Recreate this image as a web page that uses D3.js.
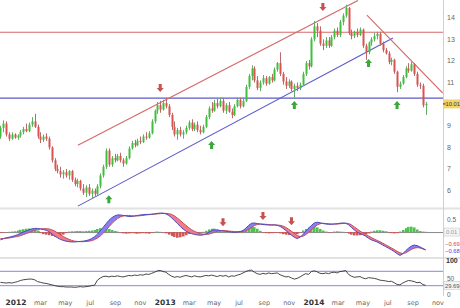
<!DOCTYPE html>
<html>
<head>
<meta charset="utf-8">
<script src="https://cdn.jsdelivr.net/npm/d3@7"></script>
<style>
  body { margin: 0; background: #fff; }
  svg { display: block; font-family: "DejaVu Sans", Arial, sans-serif; }
  .rlabel { font-family: "Liberation Sans", Arial, sans-serif; }
</style>
</head>
<body>
<div id="chart"></div>
<script>
// first weekly candle
const firstWeek = "2011-11-25";

// weekly OHLC
const opens = [8.5,8.9,9.1,8.6,8.4,8.6,8.45,8.55,8.7,8.85,8.75,9.05,9.2,8.95,8.5,8.35,8.5,8.4,8.0,7.4,
  7.0,6.9,6.75,6.85,6.7,6.9,6.5,6.3,6.45,6.1,5.9,6.15,5.85,6.0,5.85,6.2,6.7,7.1,7.85,7.2,
  7.5,7.4,7.6,7.4,7.25,7.5,7.95,8.2,8.1,8.3,8.25,8.5,8.45,8.65,9.2,9.7,9.95,9.75,10.05,9.9,
  9.5,8.95,8.6,8.8,8.6,8.7,8.9,9.15,8.85,9.05,8.8,8.7,8.95,9.4,9.8,9.7,10.05,9.9,10.15,9.7,
  9.95,9.65,9.5,9.9,10.2,9.9,10.15,10.8,11.3,11.65,11.1,10.75,11.0,11.2,10.95,11.25,11.1,11.6,11.9,11.4,
  11.05,10.85,11.05,10.7,10.85,10.75,10.9,11.4,11.9,11.75,13.0,13.6,13.4,12.8,12.7,12.95,12.7,13.1,13.4,13.2,
  13.8,14.1,14.45,13.3,13.15,13.35,13.2,13.45,12.7,12.4,12.85,13.0,13.15,13.25,12.8,12.5,12.35,11.95,12.05,11.5,
  10.8,10.95,11.25,11.65,11.55,11.85,11.4,10.9,10.85,9.95];
const highs = [9.0,9.25,9.2,8.7,8.7,8.65,8.6,8.8,8.95,9.1,9.15,9.4,9.55,9.05,8.7,8.6,8.65,8.5,8.05,7.5,
  7.2,7.1,6.95,7.0,6.95,6.95,6.6,6.55,6.5,6.3,6.25,6.3,6.1,6.1,6.3,6.8,7.2,7.95,7.95,7.6,
  7.7,7.7,7.75,7.5,7.6,8.05,8.3,8.35,8.4,8.5,8.6,8.7,8.75,9.3,9.75,10.1,10.15,10.2,10.3,10.0,
  9.6,9.2,8.9,8.95,8.8,9.0,9.25,9.3,9.15,9.2,9.0,9.05,9.5,9.9,10.1,10.2,10.25,10.3,10.3,10.05,
  10.1,9.8,10.0,10.3,10.3,10.25,10.9,11.4,11.8,11.75,11.3,11.1,11.35,11.3,11.3,11.4,11.7,11.95,12.4,11.5,
  11.25,11.15,11.1,10.95,11.0,11.0,11.5,12.0,12.05,13.1,13.85,13.75,13.6,13.0,13.1,13.1,13.2,13.5,13.55,13.9,
  14.2,14.6,14.5,13.45,13.4,13.5,13.55,13.5,12.8,12.9,13.1,13.3,13.35,13.35,12.9,12.6,12.45,12.15,12.1,11.55,
  11.05,11.35,11.75,11.9,11.95,11.9,11.5,11.0,10.95,10.1];
const lows = [8.4,8.7,8.5,8.3,8.35,8.4,8.35,8.45,8.6,8.7,8.7,8.95,8.9,8.4,8.2,8.25,8.3,7.9,7.3,6.9,
  6.8,6.6,6.55,6.6,6.5,6.4,6.2,6.15,6.0,5.8,5.7,5.75,5.65,5.75,5.8,6.1,6.6,7.0,7.1,7.1,
  7.3,7.35,7.3,7.1,7.2,7.45,7.9,8.0,8.05,8.15,8.2,8.35,8.4,8.6,9.1,9.55,9.6,9.7,9.8,9.4,
  8.8,8.5,8.35,8.5,8.4,8.6,8.8,8.75,8.75,8.7,8.6,8.65,8.9,9.3,9.6,9.65,9.8,9.85,9.6,9.55,
  9.6,9.35,9.45,9.85,9.8,9.85,10.1,10.7,11.1,11.0,10.65,10.6,10.9,10.85,10.9,11.0,11.05,11.5,11.3,10.9,
  10.7,10.75,10.6,10.3,10.6,10.65,10.85,11.3,11.6,11.7,12.9,13.1,12.7,12.5,12.6,12.6,12.65,13.0,13.1,13.1,
  13.65,14.0,13.2,13.0,13.05,13.1,13.15,12.6,12.05,12.3,12.7,12.9,13.0,12.7,12.4,12.3,11.85,11.8,11.4,10.55,
  10.7,10.9,11.2,11.45,11.5,11.3,10.8,10.7,9.85,9.5];
const closes = [8.9,9.1,8.6,8.4,8.6,8.45,8.55,8.7,8.85,8.75,9.05,9.2,8.95,8.5,8.35,8.5,8.4,8.0,7.4,7.0,
  6.9,6.75,6.85,6.7,6.9,6.5,6.3,6.45,6.1,5.9,6.15,5.85,6.0,5.85,6.2,6.7,7.1,7.85,7.2,7.5,
  7.4,7.6,7.4,7.25,7.5,7.95,8.2,8.1,8.3,8.25,8.5,8.45,8.65,9.2,9.7,9.95,9.75,10.05,9.9,9.5,
  8.95,8.6,8.8,8.6,8.7,8.9,9.15,8.85,9.05,8.8,8.7,8.95,9.4,9.8,9.7,10.05,9.9,10.15,9.7,9.95,
  9.65,9.5,9.9,10.2,9.9,10.15,10.8,11.3,11.65,11.1,10.75,11.0,11.2,10.95,11.25,11.1,11.6,11.9,11.4,11.05,
  10.85,11.05,10.7,10.85,10.75,10.9,11.4,11.9,11.75,13.0,13.6,13.4,12.8,12.7,12.95,12.7,13.1,13.4,13.2,13.8,
  14.1,14.45,13.3,13.15,13.35,13.2,13.45,12.7,12.4,12.85,13.0,13.15,13.25,12.8,12.5,12.35,11.95,12.05,11.5,10.8,
  10.95,11.25,11.65,11.55,11.85,11.4,10.9,10.85,9.95,10.01];

// MACD panel
const macdLine = [-0.3,-0.26,-0.22,-0.2,-0.17,-0.14,-0.1,-0.05,0.0,0.04,0.08,0.12,0.14,0.14,0.12,0.1,0.07,0.02,-0.06,-0.15,
  -0.22,-0.28,-0.32,-0.35,-0.37,-0.38,-0.38,-0.37,-0.36,-0.35,-0.33,-0.3,-0.25,-0.18,-0.08,0.05,0.18,0.32,0.45,0.55,
  0.62,0.66,0.66,0.64,0.62,0.6,0.6,0.62,0.64,0.66,0.67,0.68,0.68,0.69,0.7,0.72,0.73,0.73,0.7,0.64,
  0.55,0.44,0.33,0.22,0.12,0.04,-0.02,-0.06,-0.09,-0.11,-0.12,-0.11,-0.07,-0.01,0.05,0.08,0.08,0.06,0.04,0.03,
  0.02,0.0,-0.01,0.0,0.02,0.06,0.15,0.26,0.34,0.35,0.33,0.31,0.29,0.28,0.27,0.27,0.27,0.26,0.22,0.15,
  0.06,-0.03,-0.12,-0.2,-0.25,-0.2,-0.1,0.03,0.15,0.26,0.35,0.38,0.36,0.33,0.31,0.3,0.3,0.31,0.32,0.34,
  0.35,0.34,0.28,0.18,0.08,0.0,-0.05,-0.1,-0.16,-0.24,-0.3,-0.34,-0.38,-0.44,-0.5,-0.56,-0.62,-0.68,-0.75,-0.83,
  -0.9,-0.84,-0.72,-0.62,-0.54,-0.5,-0.52,-0.57,-0.63,-0.68];
const signalLine = [-0.25,-0.25,-0.24,-0.23,-0.21,-0.19,-0.17,-0.14,-0.1,-0.06,-0.02,0.03,0.07,0.1,0.12,0.13,0.13,0.12,0.09,0.04,
  -0.03,-0.1,-0.17,-0.23,-0.28,-0.32,-0.35,-0.36,-0.37,-0.37,-0.36,-0.35,-0.33,-0.29,-0.23,-0.15,-0.05,0.07,0.2,0.32,
  0.43,0.52,0.58,0.62,0.64,0.64,0.63,0.62,0.62,0.63,0.64,0.66,0.67,0.68,0.69,0.7,0.71,0.72,0.72,0.71,
  0.68,0.62,0.54,0.45,0.35,0.26,0.17,0.09,0.03,-0.02,-0.06,-0.08,-0.09,-0.08,-0.05,-0.01,0.03,0.05,0.06,0.05,
  0.04,0.03,0.02,0.01,0.01,0.02,0.05,0.11,0.18,0.25,0.29,0.31,0.31,0.3,0.29,0.28,0.28,0.27,0.26,0.23,
  0.18,0.11,0.03,-0.05,-0.13,-0.17,-0.16,-0.1,-0.01,0.09,0.19,0.27,0.32,0.34,0.33,0.32,0.31,0.31,0.31,0.32,
  0.33,0.34,0.33,0.28,0.2,0.12,0.04,-0.03,-0.09,-0.15,-0.21,-0.27,-0.32,-0.37,-0.43,-0.49,-0.55,-0.61,-0.67,-0.74,
  -0.8,-0.83,-0.8,-0.74,-0.67,-0.62,-0.6,-0.61,-0.65,-0.69];
const macdHist = [-0.03,-0.02,-0.01,0.01,0.02,0.03,0.06,0.09,0.11,0.13,0.14,0.13,0.1,0.06,-0.04,-0.08,-0.1,-0.12,-0.15,-0.18,
  -0.17,-0.15,-0.1,-0.04,0.02,0.03,0.03,0.04,0.04,0.03,0.04,0.05,0.06,0.08,0.12,0.15,0.16,0.15,0.12,0.08,
  0.04,0.02,-0.02,-0.05,-0.06,-0.05,-0.04,-0.05,-0.06,-0.05,-0.04,-0.05,-0.06,-0.03,0.01,0.02,0.01,-0.02,-0.05,-0.1,
  -0.15,-0.19,-0.22,-0.2,-0.17,-0.12,-0.07,-0.04,-0.03,-0.02,-0.02,0.01,0.05,0.1,0.13,0.13,0.1,0.05,0.02,0.01,
  0.0,-0.01,0.01,0.02,0.03,0.05,0.1,0.16,0.2,0.19,0.13,0.05,-0.02,-0.04,-0.05,-0.04,-0.03,-0.03,-0.05,-0.08,
  -0.1,-0.11,-0.11,-0.1,-0.08,-0.02,0.06,0.12,0.17,0.2,0.22,0.18,0.12,0.06,0.02,-0.02,-0.01,0.02,0.03,0.02,
  0.01,-0.02,-0.06,-0.1,-0.13,-0.13,-0.12,-0.1,-0.08,-0.05,0.02,0.05,0.07,0.07,0.05,0.03,-0.02,-0.04,-0.05,-0.04,
  0.02,0.08,0.15,0.2,0.21,0.18,0.1,0.04,0.02,0.01];

// RSI panel
const rsiValues = [38,37,36,37,36,38,40,43,45,46,47,47,45,40,38,36,35,33,31,29,
  27,26,26,25,25,25,24,25,26,25,26,27,29,30,44,50,54,55,53,55,
  54,56,54,53,55,57,56,58,57,59,58,61,60,63,66,70,71,68,66,60,
  55,52,54,52,55,57,55,53,56,54,53,55,57,56,58,56,54,57,55,57,
  53,56,55,58,60,64,68,71,72,66,62,60,63,61,64,62,63,64,59,56,
  53,54,50,47,49,53,58,62,60,68,70,67,63,62,64,62,65,66,64,68,
  69,71,60,55,52,53,54,50,48,51,50,49,47,44,43,42,40,41,37,32,
  31,36,40,43,42,40,37,38,32,29.69];

// axis ticks and labels
const priceTicks = [6, 7, 8, 9, 11, 12, 13, 14];
const monthTicks = ["2012-01-01","2012-03-01","2012-05-01","2012-07-01","2012-09-01","2012-11-01",
  "2013-01-01","2013-03-01","2013-05-01","2013-07-01","2013-09-01","2013-11-01",
  "2014-01-01","2014-03-01","2014-05-01","2014-07-01","2014-09-01","2014-11-01"];
const monthNames = ["jan","feb","mar","apr","may","jun","jul","aug","sep","oct","nov","dec"];

// drawn studies: horizontal levels and trend lines [date, price]
const resistance = 13.35;
const support = 10.3;
const upperChannel = [["2012-06-02", 8.1], ["2014-04-20", 14.8]];
const lowerChannel = [["2012-06-02", 5.28], ["2014-07-15", 13.06]];
const downTrend = [["2014-05-12", 14.12], ["2014-11-14", 10.51]];

// signal arrows [week index, value]
const sellArrows = [[56, 10.75], [113, 14.5]];
const buyArrows = [[38, 5.74], [74, 8.25], [103, 10.1], [129, 12.04], [139, 10.1]];
const macdSellArrows = [[78, 0.38], [92, 0.62], [102, 0.42]];

const width = 460;
const height = 308;
const plotRight = 443;

const parse = d3.timeParse("%Y-%m-%d");
const start = parse(firstWeek);
const dates = closes.map((d, i) => d3.timeWeek.offset(start, i));

const svg = d3.select("#chart")
  .append("svg")
  .attr("width", width)
  .attr("height", height);

// Scales
const x = d3.scaleTime()
  .domain([parse("2012-01-01"), parse("2014-01-01")])
  .range([15.5, 313.5]);
const yPrice = d3.scaleLinear().domain([5.24, 14.82]).range([207, 0]);
const yMacd = d3.scaleLinear().domain([-0.96, 0.85]).range([257, 210]);
const yRsi = d3.scaleLinear().domain([0, 100]).range([296, 260]);

const green = "#3fbf3f";
const red = "#d9534f";
const lineRed = "#d46a6a";
const lineBlue = "#5a5ac8";

svg.append("defs").append("clipPath").attr("id", "plot")
  .append("rect").attr("x", 0).attr("y", 0).attr("width", plotRight).attr("height", 208);

// panel separators and right axis line
svg.selectAll(".sep")
  .data([208.5, 258])
  .enter().append("rect")
    .attr("x", 0)
    .attr("y", d => d - 1)
    .attr("width", width)
    .attr("height", 2)
    .attr("fill", "#e2e2e2");

svg.append("line")
  .attr("x1", plotRight + 0.5).attr("x2", plotRight + 0.5)
  .attr("y1", 0).attr("y2", 296)
  .attr("stroke", "#d0d0d0");

// Main panel
const gMain = svg.append("g").attr("clip-path", "url(#plot)");

gMain.selectAll(".level")
  .data([{ v: resistance, c: lineRed }, { v: support, c: lineBlue }])
  .enter().append("line")
    .attr("x1", 0).attr("x2", plotRight)
    .attr("y1", d => yPrice(d.v) + 0.5).attr("y2", d => yPrice(d.v) + 0.5)
    .attr("stroke", d => d.c)
    .attr("stroke-width", 1.2);

const trendLine = d3.line()
  .x(d => x(parse(d[0])))
  .y(d => yPrice(d[1]));

gMain.selectAll(".trend")
  .data([{ p: upperChannel, c: lineRed }, { p: lowerChannel, c: lineBlue }, { p: downTrend, c: lineRed }])
  .enter().append("path")
    .attr("d", d => trendLine(d.p))
    .attr("fill", "none")
    .attr("stroke", d => d.c)
    .attr("stroke-width", 1.1);

// candles
const candles = gMain.selectAll(".candle")
  .data(dates.map((d, i) => ({ date: d, o: opens[i], h: highs[i], l: lows[i], c: closes[i] })))
  .enter().append("g");

candles.append("line")
  .attr("x1", d => Math.round(x(d.date)) + 0.5)
  .attr("x2", d => Math.round(x(d.date)) + 0.5)
  .attr("y1", d => yPrice(d.h))
  .attr("y2", d => yPrice(d.l))
  .attr("stroke", d => d.c >= d.o ? "#6aa86a" : "#b86a6a")
  .attr("stroke-width", 1);

candles.append("rect")
  .attr("x", d => Math.round(x(d.date)) - 0.5)
  .attr("y", d => yPrice(Math.max(d.o, d.c)))
  .attr("width", 2)
  .attr("height", d => Math.max(1, Math.abs(yPrice(d.o) - yPrice(d.c))))
  .attr("fill", d => d.c >= d.o ? green : red);

// arrows
const downArrow = "M-1.5,-4 L1.5,-4 L1.5,0 L3.5,0 L0,4 L-3.5,0 L-1.5,0 Z";
const upArrow = "M-1.5,4 L1.5,4 L1.5,0 L3.5,0 L0,-4 L-3.5,0 L-1.5,0 Z";

svg.selectAll(".sell")
  .data(sellArrows)
  .enter().append("path")
    .attr("d", downArrow)
    .attr("transform", d => `translate(${x(dates[d[0]])},${yPrice(d[1])})`)
    .attr("fill", "#c85050");

svg.selectAll(".buy")
  .data(buyArrows)
  .enter().append("path")
    .attr("d", upArrow)
    .attr("transform", d => `translate(${x(dates[d[0]])},${yPrice(d[1]) + 3})`)
    .attr("fill", "#3aa83a");

// price labels on the right
svg.selectAll(".ptick")
  .data(priceTicks)
  .enter().append("text")
    .attr("class", "rlabel")
    .attr("x", 447)
    .attr("y", d => yPrice(d) + 2.5)
    .attr("font-size", 7)
    .attr("fill", "#666")
    .text(d => d);

const last = closes[closes.length - 1];
svg.append("rect")
  .attr("x", plotRight + 1).attr("y", yPrice(last) - 4.5)
  .attr("width", 16).attr("height", 9)
  .attr("fill", "#f2d46a");
svg.append("line")
  .attr("x1", plotRight).attr("x2", plotRight + 2.5)
  .attr("y1", yPrice(last)).attr("y2", yPrice(last))
  .attr("stroke", "#333");
svg.append("text")
  .attr("class", "rlabel")
  .attr("x", plotRight + 2.5).attr("y", yPrice(last) + 2.2)
  .attr("font-size", 5.8)
  .attr("fill", "#333")
  .text(d3.format(".2f")(last));

// MACD panel
const gMacd = svg.append("g");

gMacd.append("line")
  .attr("x1", 0).attr("x2", plotRight)
  .attr("y1", yMacd(0) + 0.5).attr("y2", yMacd(0) + 0.5)
  .attr("stroke", "#888");

gMacd.selectAll(".hist")
  .data(macdHist)
  .enter().append("rect")
    .attr("x", (d, i) => Math.round(x(dates[i])) - 1)
    .attr("y", d => d >= 0 ? yMacd(d) : yMacd(0))
    .attr("width", 2.6)
    .attr("height", d => Math.abs(yMacd(d) - yMacd(0)))
    .attr("fill", d => d >= 0 ? "#4cc44c" : "#d05555");

const macdPts = dates.map((d, i) => ({ date: d, m: macdLine[i], s: signalLine[i] }));

const defs = svg.select("defs");
defs.append("clipPath").attr("id", "above")
  .append("path")
  .attr("d", d3.area().x(d => x(d.date)).y0(0).y1(d => yMacd(d.s))(macdPts));
defs.append("clipPath").attr("id", "below")
  .append("path")
  .attr("d", d3.area().x(d => x(d.date)).y0(height).y1(d => yMacd(d.s))(macdPts));

const ribbon = d3.area()
  .x(d => x(d.date))
  .y0(d => yMacd(d.s))
  .y1(d => yMacd(d.m));

gMacd.append("path")
  .attr("d", ribbon(macdPts))
  .attr("clip-path", "url(#above)")
  .attr("fill", "#8a7ef0");
gMacd.append("path")
  .attr("d", ribbon(macdPts))
  .attr("clip-path", "url(#below)")
  .attr("fill", "#ef7c86");

gMacd.append("path")
  .datum(macdPts)
  .attr("d", d3.line().x(d => x(d.date)).y(d => yMacd(d.s)))
  .attr("fill", "none")
  .attr("stroke", "#c94a5a")
  .attr("stroke-width", 1);
gMacd.append("path")
  .datum(macdPts)
  .attr("d", d3.line().x(d => x(d.date)).y(d => yMacd(d.m)))
  .attr("fill", "none")
  .attr("stroke", "#4a4ac0")
  .attr("stroke-width", 1);

gMacd.selectAll(".msell")
  .data(macdSellArrows)
  .enter().append("path")
    .attr("d", downArrow)
    .attr("transform", d => `translate(${x(dates[d[0]])},${yMacd(d[1])})`)
    .attr("fill", "#c85050");

// MACD labels
svg.append("text").attr("class", "rlabel").attr("x", 447).attr("y", yMacd(0.5) + 2.5)
  .attr("font-size", 6.5).attr("fill", "#666").text("0.5");
svg.append("rect")
  .attr("x", plotRight + 1).attr("y", yMacd(0) - 4)
  .attr("width", 15.5).attr("height", 8)
  .attr("fill", "#f4f4f4").attr("stroke", "#c8c8c8").attr("stroke-width", 0.6);
svg.append("text").attr("class", "rlabel").attr("x", plotRight + 3).attr("y", yMacd(0) + 2.2)
  .attr("font-size", 5.8).attr("fill", "#999").text("0.01");
svg.append("text").attr("class", "rlabel").attr("x", 445).attr("y", 245.5)
  .attr("font-size", 5.8).attr("fill", "#d04a4a")
  .text(d3.format(".2f")(signalLine[signalLine.length - 1]));
svg.append("text").attr("class", "rlabel").attr("x", 445).attr("y", 253)
  .attr("font-size", 5.8).attr("fill", "#4a4ad0")
  .text(d3.format(".2f")(macdLine[macdLine.length - 1]));

// RSI panel
const gRsi = svg.append("g");

gRsi.selectAll(".band")
  .data([70, 30])
  .enter().append("line")
    .attr("x1", 0).attr("x2", plotRight)
    .attr("y1", d => yRsi(d) + 0.5).attr("y2", d => yRsi(d) + 0.5)
    .attr("stroke", "#8888d8");

gRsi.append("path")
  .datum(rsiValues)
  .attr("d", d3.line().x((d, i) => x(dates[i])).y(d => yRsi(d)))
  .attr("fill", "none")
  .attr("stroke", "#333")
  .attr("stroke-width", 0.9);

svg.append("text").attr("class", "rlabel").attr("x", 446).attr("y", yRsi(100) + 3)
  .attr("font-size", 7).attr("font-weight", "bold").attr("fill", "#333").text("100");
svg.append("text").attr("class", "rlabel").attr("x", 447).attr("y", yRsi(50) + 2.5)
  .attr("font-size", 6.5).attr("fill", "#666").text("50");
svg.append("text").attr("class", "rlabel").attr("x", 447).attr("y", yRsi(0) + 1)
  .attr("font-size", 6.5).attr("fill", "#666").text("0");
const lastRsi = rsiValues[rsiValues.length - 1];
svg.append("rect")
  .attr("x", plotRight + 1).attr("y", yRsi(lastRsi) - 4)
  .attr("width", 16).attr("height", 8)
  .attr("fill", "#f4f4f4").attr("stroke", "#c8c8c8").attr("stroke-width", 0.6);
svg.append("text").attr("class", "rlabel").attr("x", plotRight + 2).attr("y", yRsi(lastRsi) + 2.2)
  .attr("font-size", 5.8).attr("fill", "#555").text(d3.format(".2f")(lastRsi));

// x axis labels
const xAxis = svg.append("g")
  .attr("transform", "translate(0, 297)")
  .call(d3.axisBottom(x)
    .tickValues(monthTicks.map(parse))
    .tickSize(0)
    .tickPadding(3)
    .tickFormat(d => d.getMonth() === 0 ? d.getFullYear() : monthNames[d.getMonth()]));

xAxis.select(".domain").remove();
xAxis.selectAll("text")
  .attr("font-family", "DejaVu Sans, Arial, sans-serif")
  .attr("font-size", d => d.getMonth() === 0 ? 7.5 : 6.5)
  .attr("font-weight", d => d.getMonth() === 0 ? "bold" : "normal")
  .attr("fill", d => d.getMonth() === 0 ? "#333" : "#666");
</script>
</body>
</html>
